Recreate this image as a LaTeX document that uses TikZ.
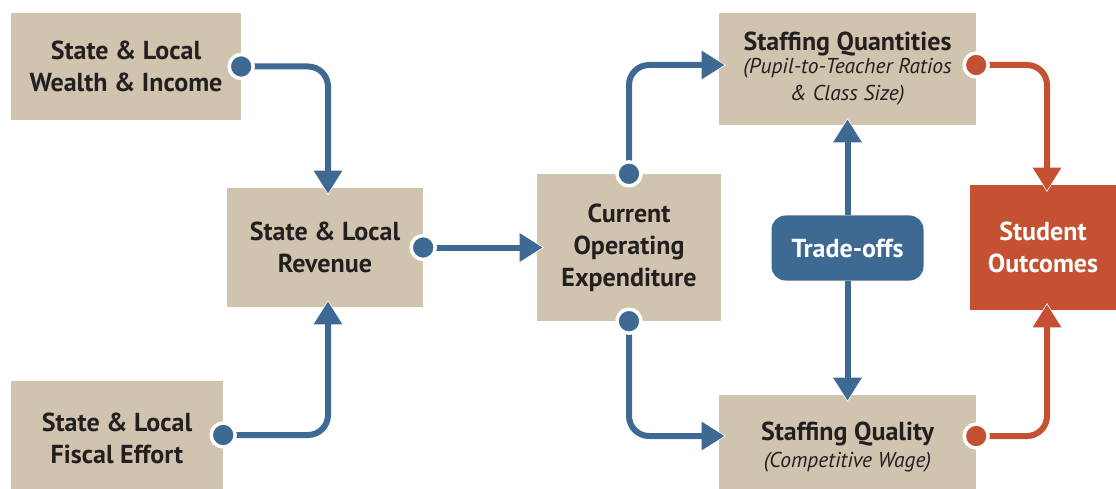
\documentclass[tikz,border=0pt]{standalone}
\usepackage{fontspec}
\setmainfont{PT Sans}
\usetikzlibrary{arrows.meta}
\definecolor{cblue}{HTML}{3E6992}
\definecolor{cbeige}{HTML}{D0C4AF}
\definecolor{cred}{HTML}{C45232}
\definecolor{ctext}{HTML}{231F20}
\newcommand{\ttlf}{\fontsize{26}{32}\selectfont\bfseries}
\newcommand{\subf}{\fontsize{21.5}{25}\selectfont\mdseries\itshape}
\begin{document}
\begin{tikzpicture}[x=1pt,y=-1pt,
  box/.style={fill=cbeige, inner sep=0pt, align=center, text=ctext, font=\ttlf},
  conn/.style={line width=6pt, rounded corners=20pt, draw=#1, shorten >=6.6pt,
    -{Triangle[width=27pt,length=23pt]},
    preaction={draw=white, shorten >=0pt, -{Triangle[width=35pt,length=29.6pt]}}},
  conn/.default=cblue,
  dotn/.style={circle, fill=#1, draw=white, line width=3.5pt, minimum size=24pt, inner sep=0pt},
  dotn/.default=cblue]
\useasboundingbox (0,0) rectangle (1116,489);
% boxes
\node[box, minimum width=230pt, minimum height=107pt] (wealth) at (126,66.5) {State \& Local\\Wealth \& Income};
\node[box, minimum width=196pt, minimum height=119pt] (rev) at (325,247.5) {State \& Local\\Revenue};
\node[box, minimum width=212pt, minimum height=114pt] (fiscal) at (117,438) {State \& Local\\Fiscal Effort};
\node[box, minimum width=184pt, minimum height=147pt] (cur) at (629,247.5) {Current\\Operating\\Expenditure};
\node[box, minimum width=257pt, minimum height=112pt] (sq) at (847.5,69) {Staffing Quantities\\[-9pt]\subf (Pupil-to-Teacher Ratios\\[-5pt]\subf \& Class Size)};
\node[box, minimum width=257pt, minimum height=105pt] (sqq) at (847.5,447.5) {Staffing Quality\\[-5pt]\subf (Competitive Wage)};
\node[box, fill=cred, text=white, minimum width=146pt, minimum height=125pt] (out) at (1043,247.5) {Student\\Outcomes};
\node[box, fill=cblue, text=white, rounded corners=14pt, minimum width=152pt, minimum height=65pt] (trade) at (847.5,248) {Trade-offs};
% anchor coordinates
\coordinate (sqin) at ([yshift=4pt]sq.west);
\coordinate (sqout) at ([yshift=4pt]sq.east);
\coordinate (sqqin) at ([yshift=11.5pt]sqq.west);
\coordinate (sqqout) at ([yshift=11.5pt]sqq.east);
\coordinate (fisout) at ([yshift=3pt]fiscal.east);
% connectors
\draw[conn] (wealth.east) -| ([xshift=3pt,yshift=-12.5pt]rev.north);
\draw[conn] (fisout) -| ([xshift=3pt,yshift=12.5pt]rev.south);
\draw[conn] (rev.east) -- ([xshift=12.5pt]cur.west);
\draw[conn] (cur.north) |- ([xshift=12.5pt]sqin);
\draw[conn] (cur.south) |- ([xshift=12.5pt]sqqin);
\draw[conn] (trade.north) -- ([yshift=12.5pt]sq.south);
\draw[conn] (trade.south) -- ([yshift=-12.5pt]sqq.north);
\draw[conn=cred] (sqout) -| ([xshift=4pt,yshift=-12.5pt]out.north);
\draw[conn=cred] (sqqout) -| ([xshift=4pt,yshift=12.5pt]out.south);
% dots
\node[dotn] (d1) at (wealth.east) {};
\node[dotn] (d2) at (fisout) {};
\node[dotn] (d3) at (rev.east) {};
\node[dotn] (d4) at (cur.north) {};
\node[dotn] (d5) at (cur.south) {};
\node[dotn=cred] (d6) at (sqout) {};
\node[dotn=cred] (d7) at (sqqout) {};
\end{tikzpicture}
\end{document}
